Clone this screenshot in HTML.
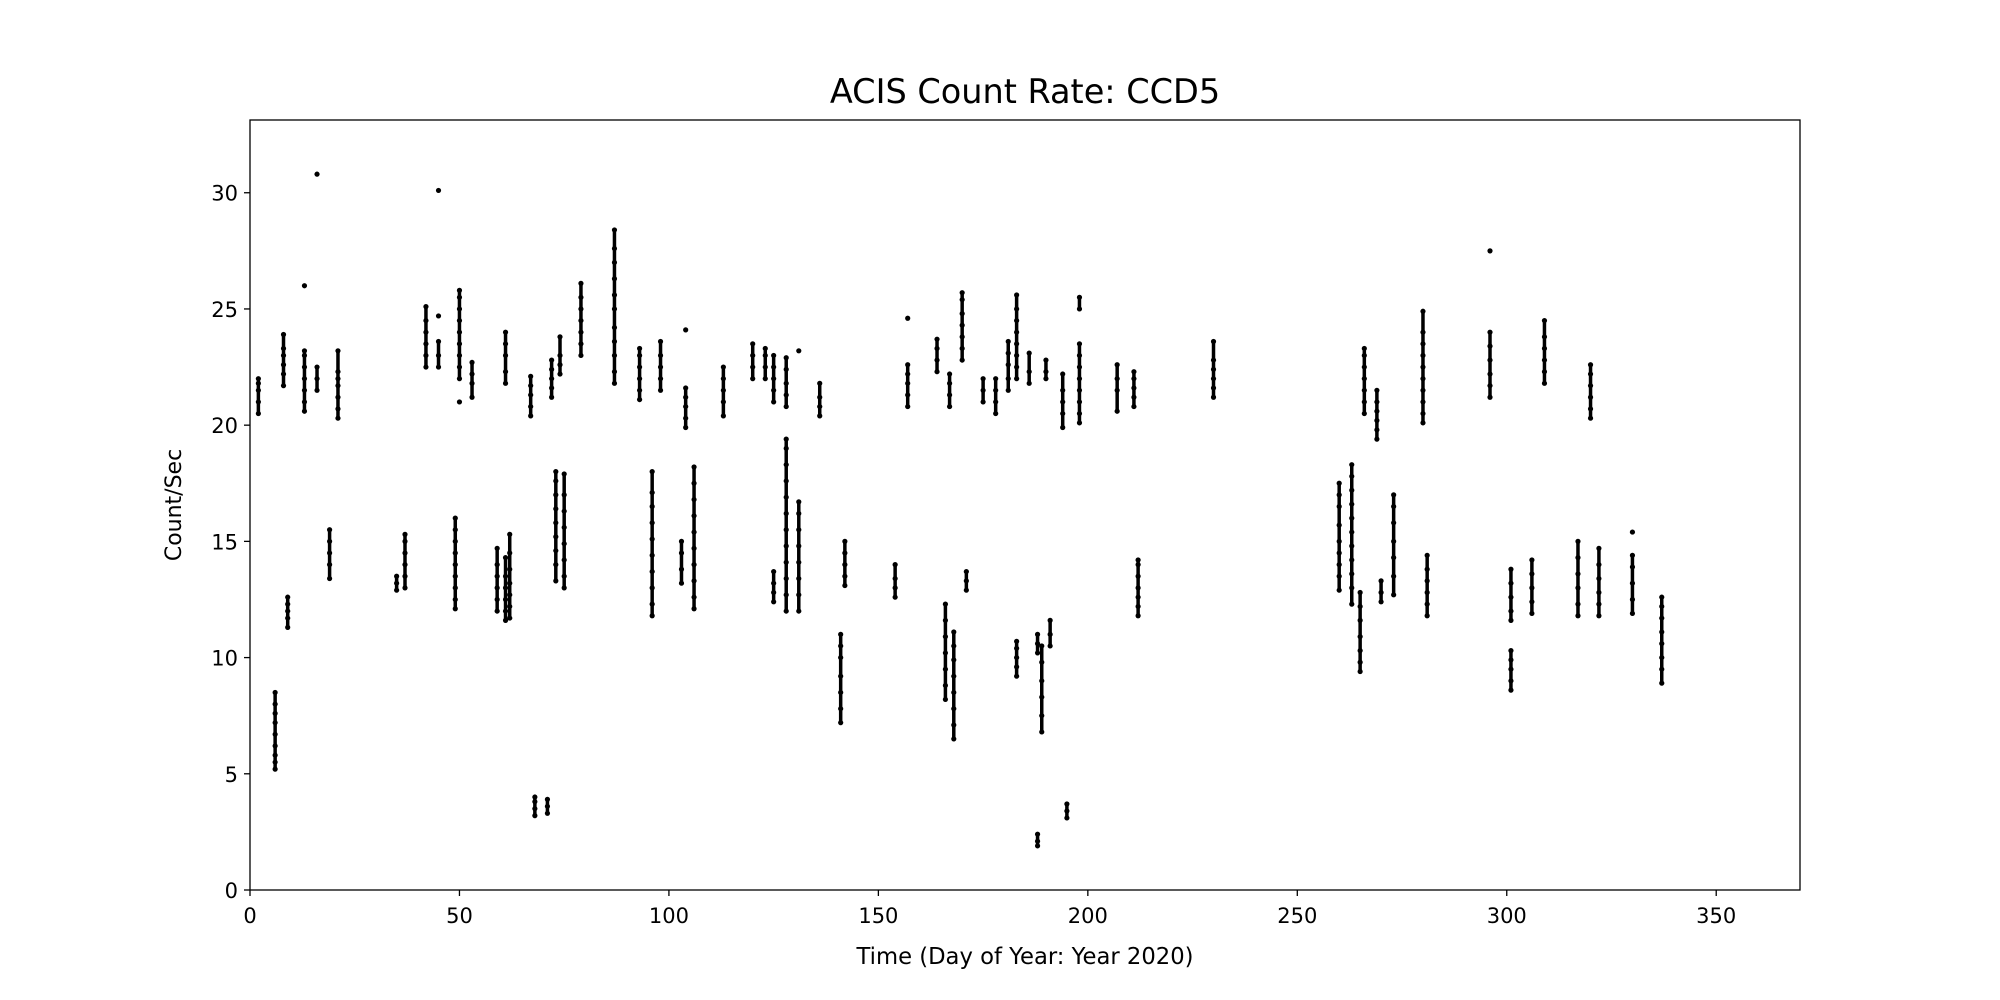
<!DOCTYPE html>
<html><head><meta charset="utf-8"><style>
html,body{margin:0;padding:0;background:#fff;}
svg{display:block;font-family:"DejaVu Sans","Liberation Sans",sans-serif;}
</style></head><body>
<svg id="chart" width="2000" height="1000" viewBox="0 0 2000 1000" xmlns="http://www.w3.org/2000/svg">
<rect width="2000" height="1000" fill="#fff"/>
<text x="1025" y="103" font-size="33.5" text-anchor="middle">ACIS Count Rate: CCD5</text>
<text x="1025" y="964" font-size="22.7" text-anchor="middle">Time (Day of Year: Year 2020)</text>
<text transform="translate(181,505) rotate(-90)" font-size="22" text-anchor="middle">Count/Sec</text>
<g id="marks"></g>
<g id="axes"></g>
</svg>
<script>
const xTicks=[0,50,100,150,200,250,300,350];
const yTicks=[0,5,10,15,20,25,30];
const days=[2,8,13,16,21,42,45,50,53,61,67,72,74,79,87,93,98,104,113,120,123,125,128,131,136,157,164,167,170,175,178,181,183,186,190,194,198,207,211,230,266,269,280,296,309,320,
6,9,19,35,37,49,59,61,62,68,71,73,75,96,103,106,125,128,131,141,142,154,166,168,171,183,188,188,189,191,195,212,260,263,265,270,273,281,301,301,306,317,322,330,337];
const values=[
[20.5,21,21.5,21.8,22],[21.7,22.2,22.6,23,23.3,23.9],[26,20.6,21,21.5,22,22.5,23,23.2],[30.8,21.5,22,22.5],[20.3,20.7,21.2,21.7,22,22.3,23.2],
[22.5,23,23.5,24,24.5,25.1],[30.1,22.5,23,23.6,24.7],[21,22,22.5,23,23.5,24,24.5,25,25.5,25.8],[21.2,21.8,22.2,22.7],[21.8,22.3,23,23.5,24],
[20.4,20.8,21.3,21.7,22.1],[21.2,21.6,22,22.4,22.8],[22.2,22.6,23,23.8],[23,23.5,24,24.5,25,25.5,26.1],[21.8,22.3,23,23.6,24.2,25,25.6,26.3,27,27.6,28.4],
[21.1,21.5,22,22.5,23,23.3],[21.5,22,22.5,23,23.6],[19.9,20.3,20.8,21.2,21.6,24.1],[20.4,21,21.5,22,22.5],[22,22.5,23,23.5],
[22,22.5,23,23.3],[21,21.5,22,22.5,23],[20.8,21.3,21.8,22.4,22.9],[23.2],[20.4,20.8,21.2,21.8],
[20.8,21.3,21.8,22.2,22.6,24.6],[22.3,22.8,23.3,23.7],[20.8,21.3,21.8,22.2],[22.8,23.3,23.8,24.3,24.8,25.4,25.7],[21,21.5,22],
[20.5,21,21.5,22],[21.5,22,22.6,23.1,23.6],[22,22.5,23,23.5,24,24.5,25,25.6],[21.8,22.3,23.1],[22,22.3,22.8],
[19.9,20.5,21,21.5,22.2],[20.1,20.5,21,21.5,22,22.5,23,23.5,25,25.5],[20.6,21.5,22,22.6],[20.8,21.2,21.6,22,22.3],[21.2,21.6,22,22.4,22.8,23.6],
[20.5,21,21.5,22,22.5,23,23.3],[19.4,19.8,20.2,20.6,21,21.5],[20.1,20.5,21,21.5,22,22.5,23,23.5,24,24.9],[21.2,21.7,22.2,22.8,23.4,24,27.5],[21.8,22.3,22.8,23.3,23.8,24.5],[20.3,20.7,21.2,21.7,22.2,22.6],
[5.2,5.5,5.8,6.2,6.7,7.2,7.6,8,8.5],[11.3,11.7,12,12.3,12.6],[13.4,14,14.5,15,15.5],[12.9,13.2,13.5],[13,13.5,14,14.5,15,15.3],
[12.1,12.5,13,13.5,14,14.5,15,15.5,16],[12,12.5,13,13.5,14,14.7],[11.6,12,12.5,13,13.5,14.3],[11.7,12.2,12.7,13.2,13.8,14.5,15.3],[3.2,3.5,3.8,4],
[3.3,3.6,3.9],[13.3,14,14.6,15.2,15.8,16.4,17,17.6,18],[13,13.5,14.2,14.9,15.6,16.3,17,17.9],[11.8,12.3,13,13.7,14.4,15.1,15.8,16.5,17.1,18],[13.2,13.8,14.5,15],
[12.1,12.6,13.3,14,14.7,15.4,16.1,16.8,17.5,18.2],[12.4,12.8,13.2,13.7],[12,12.7,13.4,14.1,14.8,15.5,16.2,16.9,17.6,18.3,19,19.4],[12,12.7,13.4,14.1,14.8,15.5,16.2,16.7],[7.2,7.8,8.5,9.2,10,10.5,11],
[13.1,13.5,14,14.5,15],[12.6,13,13.4,14],[8.2,8.8,9.5,10.2,10.9,11.6,12.3],[6.5,7.1,7.8,8.5,9.2,9.9,10.5,11.1],[12.9,13.3,13.7],
[9.2,9.6,10,10.4,10.7],[1.9,2.1,2.4],[10.2,10.6,11],[6.8,7.5,8.3,9,9.8,10.5],[10.5,11,11.6],[3.1,3.4,3.7],
[11.8,12.2,12.6,13,13.5,14,14.2],[12.9,13.5,14,14.5,15,15.7,16.5,17,17.5],[12.3,13,13.6,14.2,14.8,15.4,16,16.6,17.2,17.8,18.3],[9.4,9.8,10.3,10.9,11.6,12.2,12.8],[12.4,12.8,13.3],
[12.7,13.5,14.3,15,15.8,16.5,17],[11.8,12.3,12.8,13.3,13.8,14.4],[8.6,9,9.5,9.9,10.3],[11.6,12,12.6,13.2,13.8],[11.9,12.4,13,13.6,14.2],
[11.8,12.3,13,13.6,14.3,15],[11.8,12.3,12.8,13.4,14,14.7],[11.9,12.5,13.2,13.9,14.4,15.4],[8.9,9.5,10,10.6,11.1,11.7,12.2,12.6]];
const L=250,R=1800,T=120,B=890,XMAX=370,YMAX=33.13;
const NS="http://www.w3.org/2000/svg";
function sx(v){return L+(v/XMAX)*(R-L);}
function sy(v){return B-(v/YMAX)*(B-T);}
const marks=document.getElementById('marks');
const axes=document.getElementById('axes');
function mk(tag,attrs,parent){const e=document.createElementNS(NS,tag);for(const k in attrs)e.setAttribute(k,attrs[k]);parent.appendChild(e);return e;}
days.forEach((d,i)=>{
  const vs=values[i].slice().sort((a,b)=>a-b);
  for(let j=1;j<vs.length;j++){
    if(vs[j]-vs[j-1]<0.9){
      const ln=mk('line',{x1:sx(d),x2:sx(d),y1:sy(vs[j-1]),y2:sy(vs[j]),stroke:'#000','stroke-width':3.5},marks);
      
      
    }
  }
  vs.forEach(v=>{
    const c=mk('circle',{cx:sx(d),cy:sy(v),r:2.6,fill:'#000'},marks);
    
    
  });
});
const frame=mk('rect',{x:L,y:T,width:R-L,height:B-T,fill:'none',stroke:'#000','stroke-width':1.3},axes);


xTicks.forEach(t=>{
  const tk=mk('line',{x1:sx(t),x2:sx(t),y1:B,y2:B+6,stroke:'#000','stroke-width':1.3},axes);
  
  
  const tx=mk('text',{x:sx(t),y:B+33,'font-size':21,'text-anchor':'middle'},axes);
  tx.textContent=t;
  
  
});
yTicks.forEach(t=>{
  const tk=mk('line',{x1:L-6,x2:L,y1:sy(t),y2:sy(t),stroke:'#000','stroke-width':1.3},axes);
  
  
  const tx=mk('text',{x:L-12,y:sy(t)+8,'font-size':21,'text-anchor':'end'},axes);
  tx.textContent=t;
  
  
});
</script>
</body></html>
